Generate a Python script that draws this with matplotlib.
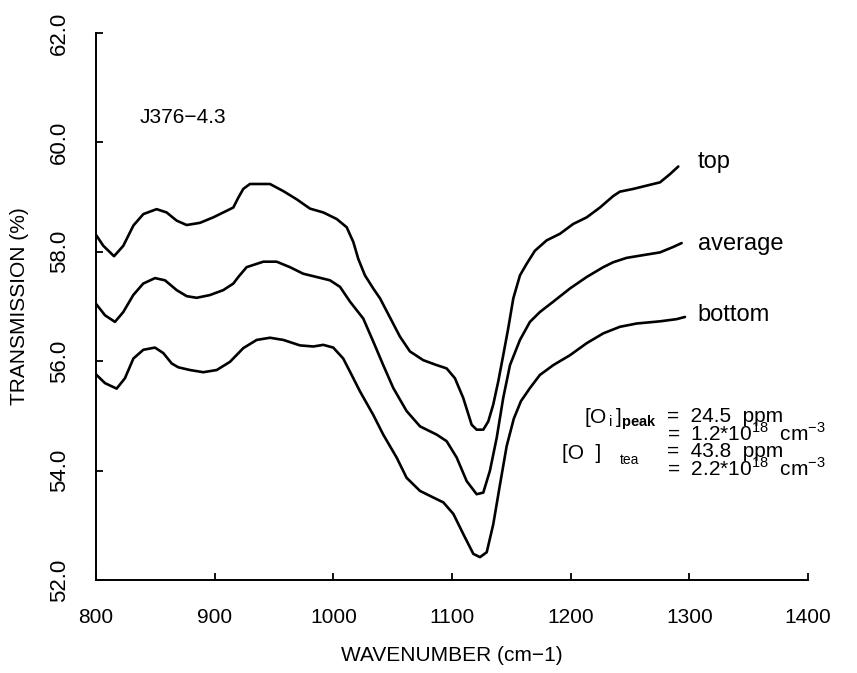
import matplotlib
matplotlib.use("Agg")
import matplotlib.pyplot as plt

plt.rcParams['font.family'] = ['Liberation Sans', 'DejaVu Sans']
plt.rcParams['mathtext.fontset'] = 'custom'
plt.rcParams['mathtext.rm'] = 'Liberation Sans'
plt.rcParams['mathtext.bf'] = 'Liberation Sans:bold'

# wavenumber / transmission
top_x = [800, 806.2, 815.2, 823, 831.5, 839.9, 851.1, 859.5, 868, 876.4, 887.6,
         898.8, 910.1, 915.7, 919.9, 924.1, 929.7, 946.6, 957.8, 969.1, 980.3,
         991.5, 1002.8, 1011.2, 1016.8, 1021, 1026.6, 1033.6, 1039.3, 1047.7,
         1056.1, 1064.5, 1075.7, 1087, 1095.4, 1102.4, 1109.4, 1116.5, 1120.7,
         1126.3, 1130.5, 1134.7, 1138.9, 1143.1, 1147.3, 1151.6, 1157.2, 1162.8,
         1169.8, 1179.7, 1190.9, 1202.1, 1213.4, 1224.6, 1235.8, 1241.4, 1252.7,
         1263.9, 1275.2, 1283.6, 1290.6]
top_y = [58.31, 58.11, 57.92, 58.11, 58.48, 58.69, 58.78, 58.72, 58.57, 58.49,
         58.53, 58.63, 58.75, 58.81, 58.99, 59.15, 59.24, 59.24, 59.11, 58.96,
         58.79, 58.72, 58.6, 58.45, 58.18, 57.87, 57.57, 57.33, 57.15, 56.8,
         56.45, 56.18, 56.02, 55.93, 55.87, 55.69, 55.33, 54.84, 54.75, 54.75,
         54.9, 55.21, 55.63, 56.11, 56.6, 57.15, 57.57, 57.78, 58.02, 58.21,
         58.33, 58.51, 58.63, 58.81, 59.02, 59.1, 59.15, 59.21, 59.27, 59.42,
         59.56]

avg_x = [800, 807.6, 816, 823, 831.4, 839.8, 849.7, 858.1, 868, 876.4, 884.8,
         896, 907.2, 915.7, 919.9, 926.9, 941, 952.2, 963.4, 974.6, 985.9, 997.1,
         1005.6, 1014, 1025.2, 1033.6, 1042, 1050.5, 1061.7, 1073, 1087, 1095.4,
         1103.9, 1112.3, 1120.7, 1126.3, 1131.9, 1137.6, 1143.1, 1148.8, 1157.2,
         1165.6, 1174, 1185.3, 1199.3, 1213.4, 1227.4, 1235.8, 1247.1, 1263.9,
         1275.2, 1286.4, 1293.4]
avg_y = [57.05, 56.84, 56.72, 56.9, 57.21, 57.42, 57.52, 57.48, 57.3, 57.19,
         57.16, 57.21, 57.3, 57.42, 57.54, 57.72, 57.82, 57.82, 57.72, 57.6,
         57.54, 57.48, 57.36, 57.09, 56.78, 56.36, 55.93, 55.51, 55.09, 54.81,
         54.66, 54.54, 54.24, 53.81, 53.57, 53.6, 54.0, 54.6, 55.33, 55.93,
         56.39, 56.72, 56.9, 57.09, 57.33, 57.54, 57.72, 57.81, 57.89, 57.95,
         57.99, 58.09, 58.16]

bot_x = [800, 807.6, 817.4, 824.4, 831.5, 839.9, 849.7, 856.7, 863.8, 869.3,
         879.2, 890.4, 901.7, 912.9, 924.1, 935.4, 946.6, 957.8, 971.9, 983.1,
         991.5, 999.9, 1008.3, 1014, 1022.4, 1033.6, 1042, 1053.3, 1061.7, 1073,
         1084.2, 1092.7, 1101.1, 1109.5, 1117.9, 1123.5, 1129.2, 1134.7, 1140.4,
         1146, 1152, 1158, 1165.6, 1174, 1185.3, 1199.3, 1213.4, 1227.4,
         1241.4, 1255.5, 1275.2, 1289.2, 1296.2]
bot_y = [55.76, 55.6, 55.5, 55.69, 56.05, 56.21, 56.25, 56.15, 55.96, 55.89,
         55.84, 55.8, 55.84, 55.99, 56.24, 56.39, 56.43, 56.39, 56.29, 56.27,
         56.3, 56.25, 56.05, 55.81, 55.45, 55.02, 54.66, 54.24, 53.87, 53.63,
         53.51, 53.42, 53.21, 52.84, 52.48, 52.42, 52.51, 53.02, 53.75, 54.45,
         54.95, 55.27, 55.51, 55.75, 55.93, 56.11, 56.33, 56.51, 56.63, 56.69,
         56.73, 56.77, 56.81]

curve_names = ['top', 'average', 'bottom']
name_y = [59.64, 58.15, 56.84]

x_ticks = [800, 900, 1000, 1100, 1200, 1300, 1400]
y_ticks = [52.0, 54.0, 56.0, 58.0, 60.0, 62.0]

fig = plt.figure(figsize=(8.57, 6.73), dpi=100)
ax = fig.add_axes([0.112, 0.138, 0.831, 0.813])

for xs, ys in [(top_x, top_y), (avg_x, avg_y), (bot_x, bot_y)]:
    ax.plot(xs, ys, color='black', lw=1.9, solid_joinstyle='round', solid_capstyle='round')

ax.set_xlim(800, 1400)
ax.set_ylim(52, 62)
ax.set_xticks(x_ticks)
ax.set_yticks(y_ticks)
ax.set_yticklabels(['%.1f' % v for v in y_ticks], rotation=90, va='center')
ax.tick_params(direction='in', length=5, width=1.3, color='black')
ax.tick_params(axis='x', pad=20, labelsize=15)
ax.tick_params(axis='y', pad=19, labelsize=16)
ax.spines['top'].set_visible(False)
ax.spines['right'].set_visible(False)
for s in ['left', 'bottom']:
    ax.spines[s].set_linewidth(1.4)

ax.set_xlabel('WAVENUMBER (cm\u22121)', fontsize=15, labelpad=14)
ax.set_ylabel('TRANSMISSION (%)', fontsize=15, labelpad=14)

ax.text(837, 60.45, 'J376\u22124.3', fontsize=15, va='center')
for name, yy in zip(curve_names, name_y):
    ax.text(1307, yy, name, fontsize=17, va='center')

# oxygen content block: labels on the left, values as one block on the right
ax.text(1273, 54.87, r'$[\mathrm{O_{\,i}}\,]_{\mathbf{peak}}$', fontsize=15,
        va='baseline', ha='right')
ax.text(1193, 54.22, '[O  ]', fontsize=15, va='baseline')
ax.text(1241, 54.13, 'tea', fontsize=10, va='baseline')
values = ('=  24.5  ppm\n'
          '=  1.2$*$10$^{18}$  cm$^{\\mathrm{-3}}$\n'
          '=  43.8  ppm\n'
          '=  2.2$*$10$^{18}$  cm$^{\\mathrm{-3}}$')
ax.text(1281, 53.91, values, fontsize=15, va='baseline', linespacing=0.8)

fig.savefig('out.png', dpi=100)
